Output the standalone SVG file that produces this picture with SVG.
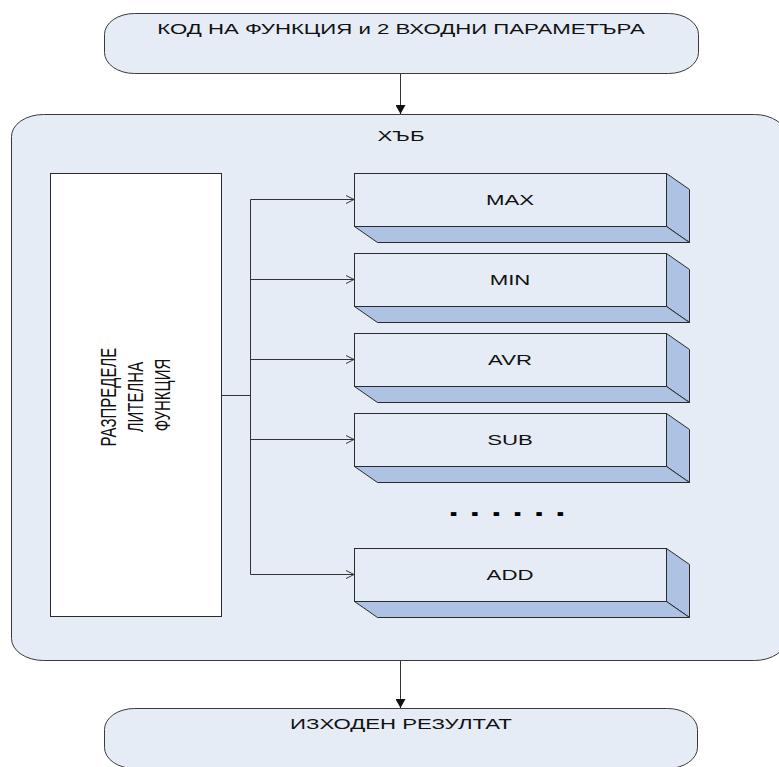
<svg xmlns="http://www.w3.org/2000/svg" width="779" height="767" viewBox="0 0 779 767">
  <defs>
    <style>
      .term { fill: #E6ECF6; stroke: #3a3a3a; stroke-width: 1; }
      .hub { fill: #E6ECF6; stroke: #3a3a3a; stroke-width: 1; }
      .plain { fill: #FFFFFF; stroke: #2a2a2a; stroke-width: 1; }
      .front { fill: #E6ECF6; stroke: #2a2a2a; stroke-width: 1; }
      .side { fill: #AEC3E3; stroke: #2a2a2a; stroke-width: 1; stroke-linejoin: miter; }
      .lbl { font-family: "Liberation Sans", Arial, sans-serif; font-size: 15px; fill: #111111; text-anchor: middle; }
      .dots { font-family: "Liberation Sans", Arial, sans-serif; font-size: 26px; font-weight: bold; fill: #000000; text-anchor: middle; }
      .flow { fill: none; stroke: #333333; stroke-width: 1; }
    </style>
    <marker id="solid" markerWidth="10" markerHeight="10" refX="9" refY="5" orient="auto" markerUnits="userSpaceOnUse">
      <path d="M0,0 L9,5 L0,10 Z" fill="#111111"/>
    </marker>
    <marker id="open" markerWidth="9" markerHeight="10" refX="8" refY="5" orient="auto" markerUnits="userSpaceOnUse">
      <path d="M0,1 L8,5 L0,9" fill="none" stroke="#333333" stroke-width="1"/>
    </marker>
  </defs>

  <!-- input terminal -->
  <g id="input">
    <rect class="term" x="104.5" y="13.5" width="594" height="60" rx="30" ry="21"/>
    <text class="lbl" transform="translate(401,34) scale(1.48,1)">КОД НА ФУНКЦИЯ и 2 ВХОДНИ ПАРАМЕТЪРА</text>
  </g>

  <!-- hub container -->
  <g id="hub">
    <rect class="hub" x="11.5" y="114.5" width="775" height="546" rx="32" ry="22"/>
    <text class="lbl" transform="translate(401,141) scale(1.48,1)">ХЪБ</text>
  </g>

  <!-- dispatcher block -->
  <g id="dispatcher">
    <rect class="plain" x="50.5" y="173.5" width="171" height="443"/>
    <text class="lbl" transform="translate(135,395) scale(1.48,1) rotate(-90)">
      <tspan x="0" y="-12.6">РАЗПРЕДЕЛЕ</tspan>
      <tspan x="0" y="5.4">ЛИТЕЛНА</tspan>
      <tspan x="0" y="23.4">ФУНКЦИЯ</tspan>
    </text>
  </g>

  <!-- function blocks (front face + right and bottom bevels) -->
  <g id="max" transform="translate(0,173)">
    <path class="side" d="M666.5,0.5 L689.5,16.5 L689.5,69.5 L666.5,53.5 Z"/>
    <path class="side" d="M354.5,53.5 L377.5,69.5 L689.5,69.5 L666.5,53.5 Z"/>
    <rect class="front" x="354.5" y="0.5" width="312" height="53"/>
    <text class="lbl" transform="translate(510,31.5) scale(1.48,1)">MAX</text>
  </g>
  <g id="min" transform="translate(0,253)">
    <path class="side" d="M666.5,0.5 L689.5,16.5 L689.5,69.5 L666.5,53.5 Z"/>
    <path class="side" d="M354.5,53.5 L377.5,69.5 L689.5,69.5 L666.5,53.5 Z"/>
    <rect class="front" x="354.5" y="0.5" width="312" height="53"/>
    <text class="lbl" transform="translate(510,31.5) scale(1.48,1)">MIN</text>
  </g>
  <g id="avr" transform="translate(0,333)">
    <path class="side" d="M666.5,0.5 L689.5,16.5 L689.5,69.5 L666.5,53.5 Z"/>
    <path class="side" d="M354.5,53.5 L377.5,69.5 L689.5,69.5 L666.5,53.5 Z"/>
    <rect class="front" x="354.5" y="0.5" width="312" height="53"/>
    <text class="lbl" transform="translate(510,31.5) scale(1.48,1)">AVR</text>
  </g>
  <g id="sub" transform="translate(0,413)">
    <path class="side" d="M666.5,0.5 L689.5,16.5 L689.5,69.5 L666.5,53.5 Z"/>
    <path class="side" d="M354.5,53.5 L377.5,69.5 L689.5,69.5 L666.5,53.5 Z"/>
    <rect class="front" x="354.5" y="0.5" width="312" height="53"/>
    <text class="lbl" transform="translate(510,31.5) scale(1.48,1)">SUB</text>
  </g>
  <g id="ellipsis">
    <text class="dots" transform="translate(507,516) scale(1.48,1)">. . . . . .</text>
  </g>
  <g id="add" transform="translate(0,548)">
    <path class="side" d="M666.5,0.5 L689.5,16.5 L689.5,69.5 L666.5,53.5 Z"/>
    <path class="side" d="M354.5,53.5 L377.5,69.5 L689.5,69.5 L666.5,53.5 Z"/>
    <rect class="front" x="354.5" y="0.5" width="312" height="53"/>
    <text class="lbl" transform="translate(510,31.5) scale(1.48,1)">ADD</text>
  </g>

  <!-- output terminal -->
  <g id="output">
    <rect class="term" x="104.5" y="708.5" width="593" height="60" rx="30" ry="21"/>
    <text class="lbl" transform="translate(401,729) scale(1.48,1)">ИЗХОДЕН РЕЗУЛТАТ</text>
  </g>

  <!-- connectors -->
  <g id="connectors">
    <line class="flow" x1="400.5" y1="74" x2="400.5" y2="114" marker-end="url(#solid)"/>
    <line class="flow" x1="400.5" y1="661" x2="400.5" y2="708" marker-end="url(#solid)"/>
    <path class="flow" d="M222,395.5 H250.5"/>
    <path class="flow" d="M250.5,199.5 V574.5"/>
    <path class="flow" d="M250.5,199.5 H354" marker-end="url(#open)"/>
    <path class="flow" d="M250.5,279.5 H354" marker-end="url(#open)"/>
    <path class="flow" d="M250.5,359.5 H354" marker-end="url(#open)"/>
    <path class="flow" d="M250.5,439.5 H354" marker-end="url(#open)"/>
    <path class="flow" d="M250.5,574.5 H354" marker-end="url(#open)"/>
  </g>
</svg>
